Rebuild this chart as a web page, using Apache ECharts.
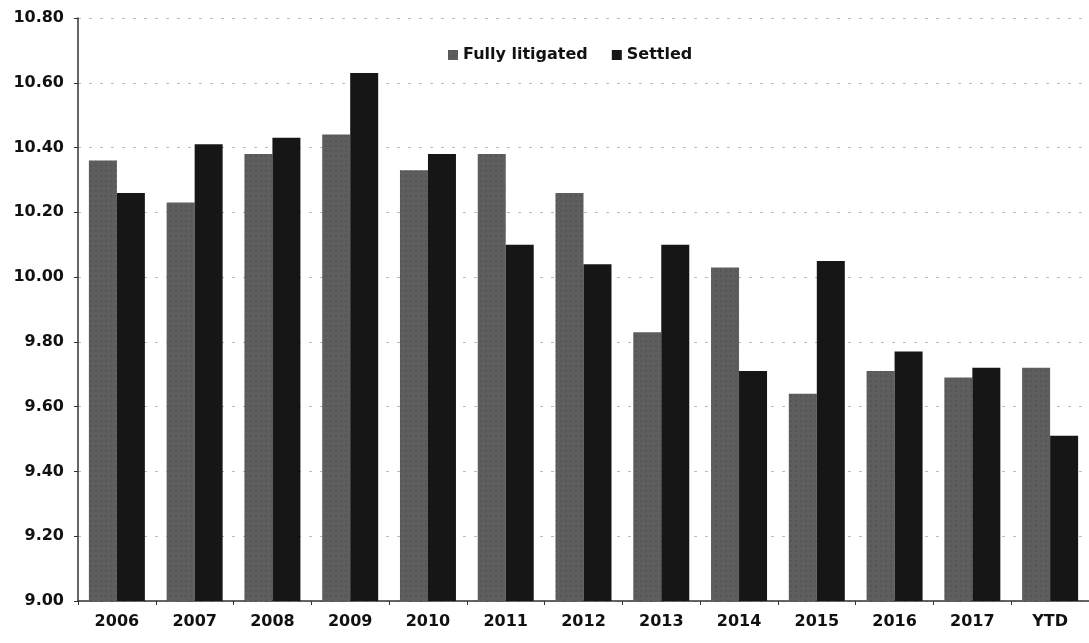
<!DOCTYPE html>
<html>
<head>
<meta charset="UTF-8">
<title>Fully litigated vs Settled</title>
<script src="https://cdn.jsdelivr.net/npm/echarts@6/dist/echarts.min.js"></script>
<style>
  html, body { margin: 0; padding: 0; background: #fff; }
  #chart { width: 1089px; height: 643px; }
</style>
</head>
<body>
<div id="chart"></div>
<script>
var years = ['2006', '2007', '2008', '2009', '2010', '2011', '2012', '2013', '2014', '2015', '2016', '2017', 'YTD'];
var fullyLitigated = [10.36, 10.23, 10.38, 10.44, 10.33, 10.38, 10.26, 9.83, 10.03, 9.64, 9.71, 9.69, 9.72];
var settled = [10.26, 10.41, 10.43, 10.63, 10.38, 10.10, 10.04, 10.10, 9.71, 10.05, 9.77, 9.72, 9.51];

var font = 'DejaVu Sans';
var chart = echarts.init(document.getElementById('chart'));
chart.setOption({
  animation: false,
  textStyle: { fontFamily: font },
  legend: {
    top: 42, left: 443,
    itemWidth: 10, itemHeight: 10, itemGap: 24,
    icon: 'rect',
    textStyle: { fontSize: 16, fontWeight: 'bold', color: '#111', fontFamily: font },
    data: ['Fully litigated', 'Settled']
  },
  grid: { left: 78, right: -9, top: 18, bottom: 42, containLabel: false },
  xAxis: {
    type: 'category',
    data: years,
    axisLine: { lineStyle: { color: '#333', width: 1.5 } },
    axisTick: { show: true, length: 4, lineStyle: { color: '#333' } },
    axisLabel: { fontSize: 16, fontWeight: 'bold', color: '#111', margin: 13, fontFamily: font }
  },
  yAxis: {
    type: 'value',
    min: 9.0, max: 10.8, interval: 0.2,
    axisLine: { show: true, lineStyle: { color: '#333', width: 1.5 } },
    axisTick: { show: true, length: 4, lineStyle: { color: '#333' } },
    axisLabel: {
      fontSize: 16, fontWeight: 'bold', color: '#111', margin: 14, fontFamily: font,
      formatter: function (v) { return v.toFixed(2); }
    },
    splitLine: { show: true, lineStyle: { color: '#bbb', type: [3, 8], width: 1 } }
  },
  series: [
    {
      name: 'Fully litigated', type: 'bar', data: fullyLitigated,
      barGap: '0%', barCategoryGap: '28%',
      itemStyle: {
        color: '#5e5e5e',
        decal: { symbol: 'rect', symbolSize: 0.6, color: 'rgba(30,30,30,0.4)', dashArrayX: [2, 3], dashArrayY: [2, 3], rotation: 0 }
      }
    },
    {
      name: 'Settled', type: 'bar', data: settled,
      itemStyle: { color: '#161616' }
    }
  ]
});
</script>
</body>
</html>
